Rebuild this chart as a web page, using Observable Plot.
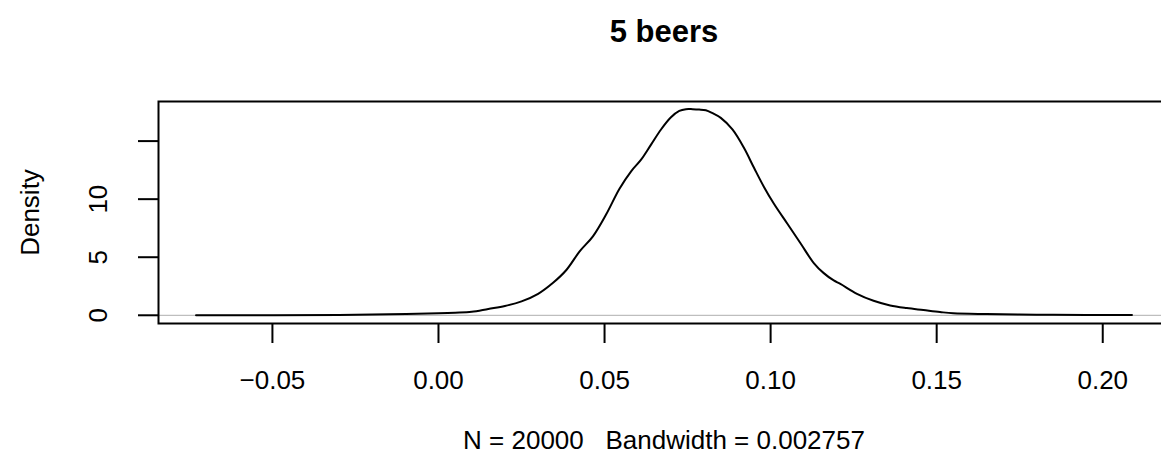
<!DOCTYPE html>
<html>
<head>
<meta charset="utf-8">
<script src="https://cdn.jsdelivr.net/npm/d3@7"></script>
<script src="https://cdn.jsdelivr.net/npm/@observablehq/plot@0.6"></script>
<style>
  html, body { margin: 0; padding: 0; overflow: hidden; background: white; }
  #chart svg { max-width: none !important; }
</style>
</head>
<body>
<div id="chart"></div>
<script>
// Density estimate of "5 beers"
const densityX = [-0.073, -0.05, -0.03, -0.015, 0.0, 0.005, 0.01, 0.015, 0.02, 0.025, 0.03, 0.0345, 0.0385, 0.0425, 0.0465, 0.0505, 0.0545, 0.058, 0.061, 0.064, 0.067, 0.070, 0.0725, 0.0745, 0.0765, 0.0785, 0.0805, 0.0825, 0.085, 0.0885, 0.092, 0.095, 0.098, 0.101, 0.105, 0.109, 0.113, 0.116, 0.119, 0.121, 0.126, 0.131, 0.136, 0.141, 0.146, 0.151, 0.155, 0.165, 0.18, 0.195, 0.2088];
const densityY = [0.0, 0.01, 0.03, 0.08, 0.17, 0.22, 0.3, 0.55, 0.8, 1.2, 1.85, 2.8, 3.9, 5.5, 6.8, 8.7, 10.9, 12.4, 13.4, 14.7, 16.0, 17.05, 17.6, 17.75, 17.75, 17.72, 17.65, 17.4, 17.0, 16.0, 14.4, 12.7, 11.05, 9.6, 7.9, 6.2, 4.5, 3.63, 3.0, 2.7, 1.85, 1.25, 0.85, 0.62, 0.45, 0.28, 0.17, 0.1, 0.05, 0.03, 0.02];

const xTicks = [-0.05, 0.00, 0.05, 0.10, 0.15, 0.20];
const yTicks = [0, 5, 10, 15];
const yTickLabels = [0, 5, 10];
const titleText = "5 beers";
const xLabel = "N = 20000   Bandwidth = 0.002757";
const yLabel = "Density";

const data = densityX.map((x, i) => ({x, y: densityY[i]}));
const fmt = d3.format(".2f");
const font = "'Liberation Sans', Arial, Helvetica, sans-serif";
const fs = 26;

const chart = Plot.plot({
  width: 1169,
  height: 476,
  marginLeft: 158,
  marginRight: 0,
  marginTop: 101,
  marginBottom: 153,
  style: {fontFamily: font, fontSize: fs + "px", color: "black", background: "white", maxWidth: "none"},
  x: {domain: [-0.0843, 0.2201], label: null},
  y: {domain: [-0.708, 18.41], label: null},
  marks: [
    Plot.ruleY([0], {stroke: "#bebebe", strokeWidth: 1.2}),
    Plot.line(data, {x: "x", y: "y", stroke: "black", strokeWidth: 2, curve: "catmull-rom"}),
    Plot.frame({stroke: "black", strokeWidth: 2}),
    Plot.axisX({ticks: xTicks, tickSize: 20, text: null, label: null, stroke: "black", strokeWidth: 2}),
    Plot.axisY({ticks: yTicks, tickSize: 20, text: null, label: null, stroke: "black", strokeWidth: 2}),
    Plot.text(xTicks, {x: d => d, text: d => fmt(d), frameAnchor: "bottom", dy: 57, lineAnchor: "middle", textAnchor: "middle", fontSize: fs, fill: "black"}),
    Plot.text(yTickLabels, {y: d => d, text: d => String(d), frameAnchor: "left", dx: -60, rotate: -90, lineAnchor: "middle", textAnchor: "middle", fontSize: fs, fill: "black"}),
    Plot.text([yLabel], {text: d => d, frameAnchor: "left", dx: -128, rotate: -90, lineAnchor: "middle", textAnchor: "middle", fontSize: fs, fill: "black"}),
    Plot.text([xLabel], {text: d => d, frameAnchor: "bottom", dy: 117, lineAnchor: "middle", textAnchor: "middle", fontSize: fs, fill: "black"}),
    Plot.text([titleText], {text: d => d, frameAnchor: "top", dy: -69, lineAnchor: "middle", textAnchor: "middle", fontSize: 31, fontWeight: "bold", fill: "black"})
  ]
});
document.getElementById("chart").appendChild(chart);
</script>
</body>
</html>
